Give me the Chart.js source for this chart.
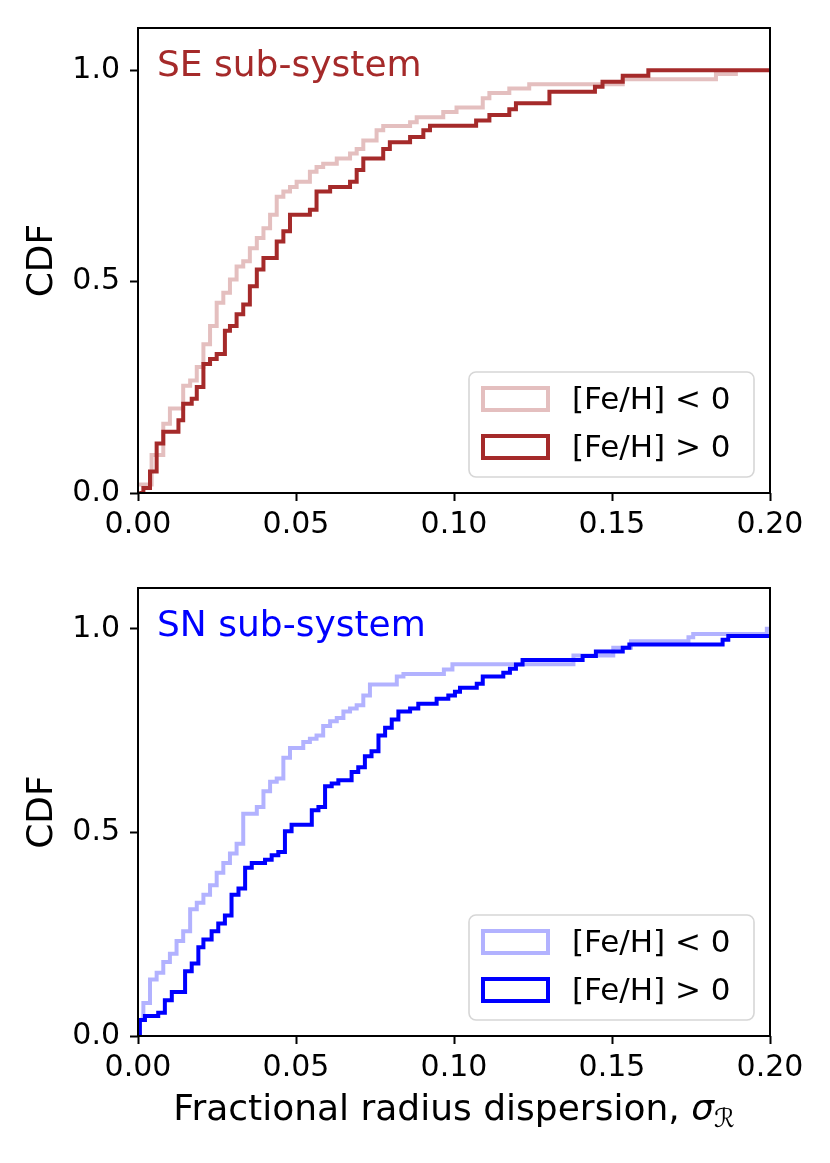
<!DOCTYPE html>
<html>
<head>
<meta charset="utf-8">
<title>CDF of fractional radius dispersion</title>
<script src="https://cdn.jsdelivr.net/npm/chart.js@4.4.1/dist/chart.umd.min.js"></script>
<style>
  html, body { margin: 0; padding: 0; background: #fff; }
  #wrap { position: relative; width: 830px; height: 1163px; }
  canvas { position: absolute; left: 0; }
</style>
</head>
<body>
<div id="wrap">
  <canvas id="seChart" width="830" height="560" style="top:0"></canvas>
  <canvas id="snChart" width="830" height="603" style="top:560px"></canvas>
</div>
<script>
// tick positions
const xTicks = [0, 0.05, 0.10, 0.15, 0.20];
const yTicks = [0, 0.5, 1.0];

// SE sub-system, [Fe/H] < 0  (x where the CDF steps, value after the step)
const seLowX = [0.0003, 0.0043, 0.0080, 0.0101, 0.0143, 0.0165, 0.0186, 0.0207, 0.0228, 0.0249,
                0.0270, 0.0291, 0.0312, 0.0333, 0.0354, 0.0376, 0.0397, 0.0418, 0.0439, 0.0460,
                0.0481, 0.0502, 0.0544, 0.0565, 0.0586, 0.0629, 0.0671, 0.0692, 0.0713, 0.0755,
                0.0776, 0.0861, 0.0882, 0.0966, 0.1008, 0.1091, 0.1112, 0.1175, 0.1238, 0.1534,
                0.1829, 0.1892];
const seLowY = [0.020, 0.090, 0.164, 0.200, 0.254, 0.266, 0.298, 0.352, 0.395, 0.450,
                0.474, 0.505, 0.536, 0.548, 0.579, 0.603, 0.626, 0.658, 0.701, 0.713,
                0.724, 0.736, 0.760, 0.771, 0.779, 0.791, 0.803, 0.814, 0.834, 0.858,
                0.868, 0.877, 0.889, 0.901, 0.912, 0.934, 0.946, 0.957, 0.967, 0.979,
                0.991, 1.000];

// SE sub-system, [Fe/H] > 0
const seHighX = [0.0004, 0.0017, 0.0038, 0.0059, 0.0080, 0.0128, 0.0143, 0.0170, 0.0186, 0.0207,
                 0.0228, 0.0249, 0.0275, 0.0291, 0.0312, 0.0333, 0.0354, 0.0376, 0.0397, 0.0439,
                 0.0460, 0.0481, 0.0544, 0.0565, 0.0608, 0.0671, 0.0692, 0.0713, 0.0776, 0.0797,
                 0.0861, 0.0903, 0.0924, 0.1070, 0.1112, 0.1175, 0.1196, 0.1302, 0.1446, 0.1470,
                 0.1534, 0.1615, 0.2000];
const seHighY = [0.000, 0.012, 0.051, 0.117, 0.145, 0.172, 0.211, 0.223, 0.251, 0.305,
                 0.317, 0.329, 0.384, 0.395, 0.423, 0.446, 0.489, 0.529, 0.556, 0.595,
                 0.619, 0.658, 0.670, 0.713, 0.724, 0.736, 0.764, 0.791, 0.814, 0.830,
                 0.842, 0.858, 0.869, 0.881, 0.894, 0.908, 0.922, 0.949, 0.961, 0.973,
                 0.987, 1.000, 1.000];

// SN sub-system, [Fe/H] < 0
const snLowX = [0.0006, 0.0017, 0.0038, 0.0059, 0.0080, 0.0101, 0.0122, 0.0143, 0.0165, 0.0186,
                0.0207, 0.0228, 0.0249, 0.0270, 0.0291, 0.0312, 0.0333, 0.0376, 0.0397, 0.0418,
                0.0439, 0.0460, 0.0481, 0.0523, 0.0544, 0.0565, 0.0586, 0.0608, 0.0629, 0.0650,
                0.0671, 0.0692, 0.0713, 0.0734, 0.0819, 0.0840, 0.0968, 0.0995, 0.1378, 0.1504,
                0.1560, 0.1742, 0.1757, 0.1990, 0.2000];
const snLowY = [0.040, 0.081, 0.139, 0.155, 0.182, 0.202, 0.233, 0.257, 0.311, 0.327,
                0.347, 0.370, 0.401, 0.425, 0.448, 0.472, 0.546, 0.562, 0.601, 0.624,
                0.632, 0.683, 0.707, 0.722, 0.730, 0.738, 0.761, 0.773, 0.781, 0.797,
                0.804, 0.812, 0.836, 0.863, 0.883, 0.889, 0.900, 0.913, 0.934, 0.953,
                0.969, 0.979, 0.987, 1.000, 1.000];

// SN sub-system, [Fe/H] > 0
const snHighX = [0.0006, 0.0006, 0.0022, 0.0064, 0.0085, 0.0107, 0.0149, 0.0170, 0.0191, 0.0207,
                 0.0233, 0.0254, 0.0275, 0.0296, 0.0318, 0.0339, 0.0360, 0.0402, 0.0423, 0.0444,
                 0.0465, 0.0486, 0.0550, 0.0571, 0.0592, 0.0613, 0.0634, 0.0676, 0.0697, 0.0718,
                 0.0739, 0.0761, 0.0782, 0.0803, 0.0824, 0.0861, 0.0887, 0.0945, 0.0982, 0.1003,
                 0.1019, 0.1072, 0.1091, 0.1156, 0.1177, 0.1196, 0.1217, 0.1407, 0.1449, 0.1534,
                 0.1555, 0.1850, 0.1868, 0.2000];
const snHighY = [0.000, 0.039, 0.049, 0.057, 0.088, 0.108, 0.159, 0.178, 0.218, 0.237,
                 0.257, 0.276, 0.296, 0.347, 0.362, 0.413, 0.425, 0.433, 0.444, 0.452,
                 0.503, 0.519, 0.554, 0.562, 0.613, 0.620, 0.628, 0.648, 0.660, 0.687,
                 0.699, 0.738, 0.757, 0.777, 0.797, 0.804, 0.816, 0.828, 0.836, 0.845,
                 0.855, 0.865, 0.883, 0.892, 0.902, 0.912, 0.923, 0.933, 0.944, 0.953,
                 0.961, 0.973, 0.982, 0.982];

const FONT = 'DejaVu Sans';
const LINE_W = 4;

function steps(xs, ys) {
    return xs.map((x, i) => ({ x: x, y: ys[i] }));
}

// frame, panel name and legend box, drawn over the curves like matplotlib does
function decorPlugin(name, nameColor, xLabel) {
    return {
        id: 'decor',
        afterDatasetsDraw(chart) {
            const ctx = chart.ctx;
            const a = chart.chartArea;
            ctx.save();

            ctx.strokeStyle = '#000';
            ctx.lineWidth = 2;
            ctx.strokeRect(a.left, a.top, a.right - a.left, a.bottom - a.top);

            ctx.fillStyle = nameColor;
            ctx.font = '36px "' + FONT + '"';
            ctx.textBaseline = 'alphabetic';
            ctx.textAlign = 'left';
            ctx.fillText(name, a.left + 19, a.top + 48);

            // legend
            const lx = a.right - 301, ly = a.bottom - 121, lw = 285, lh = 105;
            ctx.beginPath();
            if (ctx.roundRect) ctx.roundRect(lx, ly, lw, lh, 7);
            else ctx.rect(lx, ly, lw, lh);
            ctx.fillStyle = 'rgba(255,255,255,0.8)';
            ctx.fill();
            ctx.strokeStyle = 'rgba(204,204,204,0.8)';
            ctx.lineWidth = 1.6;
            ctx.stroke();
            chart.data.datasets.forEach((ds, i) => {
                const cy = ly + 27 + i * 48;
                ctx.strokeStyle = ds.borderColor;
                ctx.lineWidth = LINE_W;
                ctx.strokeRect(lx + 14, cy - 11, 65, 22);
                ctx.fillStyle = '#000';
                ctx.font = '31px "' + FONT + '"';
                ctx.textBaseline = 'middle';
                ctx.fillText(ds.label, lx + 103, cy + 1.5);
            });

            // x axis label with a subscript, only on the lower panel
            if (xLabel) {
                const base = a.bottom + 84;
                const t1 = 'Fractional radius dispersion, ';
                ctx.textBaseline = 'alphabetic';
                ctx.font = '36px "' + FONT + '"';
                const w1 = ctx.measureText(t1).width;
                ctx.font = 'italic 36px "' + FONT + '"';
                const w2 = ctx.measureText('σ').width;
                ctx.font = '26px "' + FONT + '"';
                const w3 = ctx.measureText('ℛ').width;
                let x = (a.left + a.right) / 2 - (w1 + w2 + w3) / 2;
                ctx.fillStyle = '#000';
                ctx.font = '36px "' + FONT + '"';
                ctx.fillText(t1, x, base);
                x += w1;
                ctx.font = 'italic 36px "' + FONT + '"';
                ctx.fillText('σ', x, base);
                x += w2;
                ctx.font = '26px "' + FONT + '"';
                ctx.fillText('ℛ', x, base + 7);
            }
            ctx.restore();
        }
    };
}

function panelOptions(padTop, xAxisHeight) {
    return {
        responsive: false,
        animation: false,
        layout: { padding: { top: padTop, right: 60, left: 0, bottom: 0 } },
        plugins: {
            legend: { display: false },
            tooltip: { enabled: false }
        },
        elements: {
            point: { radius: 0 },
            line: { borderWidth: LINE_W, tension: 0, borderJoinStyle: 'miter' }
        },
        scales: {
            x: {
                type: 'linear',
                min: 0,
                max: 0.2,
                afterBuildTicks: s => { s.ticks = xTicks.map(v => ({ value: v })); },
                afterFit: s => { s.height = xAxisHeight; },
                ticks: {
                    color: '#000',
                    font: { family: FONT, size: 30 },
                    padding: 6,
                    maxRotation: 0,
                    autoSkip: false,
                    callback: v => v.toFixed(2)
                },
                grid: {
                    drawOnChartArea: false,
                    drawTicks: true,
                    tickLength: 8,
                    tickWidth: 2,
                    tickColor: '#000'
                },
                border: { display: false }
            },
            y: {
                type: 'linear',
                min: 0,
                max: 1.1,
                afterBuildTicks: s => { s.ticks = yTicks.map(v => ({ value: v })); },
                afterFit: s => { s.width = 138; },
                ticks: {
                    color: '#000',
                    font: { family: FONT, size: 30 },
                    padding: 10,
                    callback: v => v.toFixed(1)
                },
                grid: {
                    drawOnChartArea: false,
                    drawTicks: true,
                    tickLength: 8,
                    tickWidth: 2,
                    tickColor: '#000'
                },
                border: { display: false },
                title: {
                    display: true,
                    text: 'CDF',
                    color: '#000',
                    font: { family: FONT, size: 36 },
                    padding: { top: 21, bottom: 0 }
                }
            }
        }
    };
}

new Chart(document.getElementById('seChart'), {
    type: 'line',
    data: {
        datasets: [{
            label: '[Fe/H] < 0',
            data: steps(seLowX, seLowY),
            borderColor: 'rgba(165,42,42,0.3)',
            borderWidth: LINE_W,
            stepped: true,
            fill: false,
            clip: 0,
            order: 2
        }, {
            label: '[Fe/H] > 0',
            data: steps(seHighX, seHighY),
            borderColor: '#a52a2a',
            borderWidth: LINE_W,
            stepped: true,
            fill: false,
            clip: 0,
            order: 1
        }]
    },
    options: panelOptions(25, 67),
    plugins: [decorPlugin('SE sub-system', '#a52a2a', false)]
});

new Chart(document.getElementById('snChart'), {
    type: 'line',
    data: {
        datasets: [{
            label: '[Fe/H] < 0',
            data: steps(snLowX, snLowY),
            borderColor: 'rgba(0,0,255,0.3)',
            borderWidth: LINE_W,
            stepped: true,
            fill: false,
            clip: 0,
            order: 2
        }, {
            label: '[Fe/H] > 0',
            data: steps(snHighX, snHighY),
            borderColor: '#0000ff',
            borderWidth: LINE_W,
            stepped: true,
            fill: false,
            clip: 0,
            order: 1
        }]
    },
    options: panelOptions(7, 127),
    plugins: [decorPlugin('SN sub-system', '#0000ff', true)]
});
</script>
</body>
</html>
